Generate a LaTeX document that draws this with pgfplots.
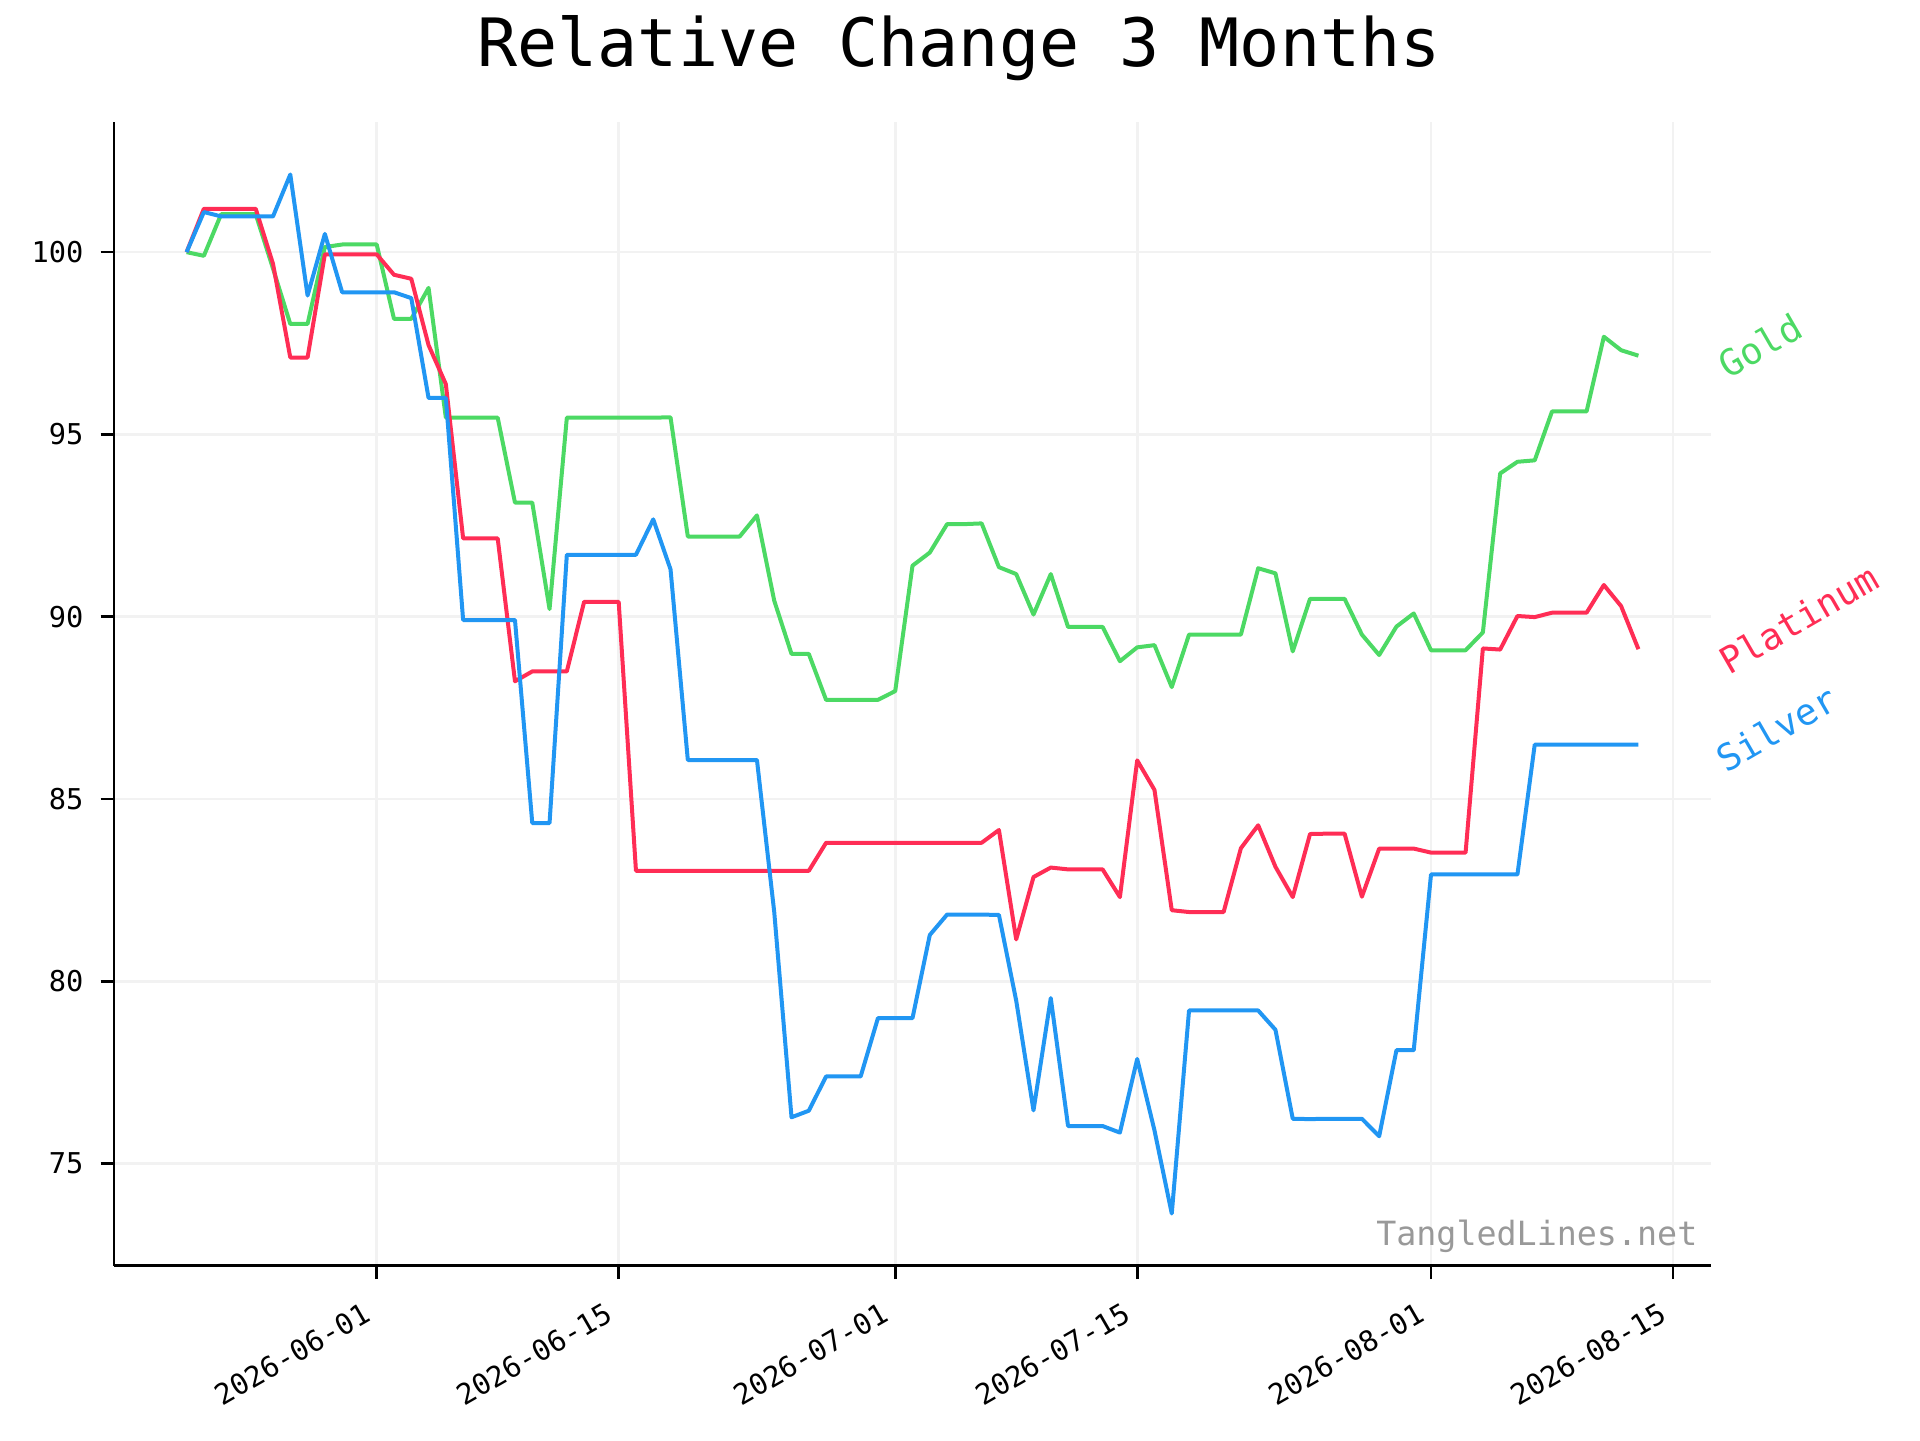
\documentclass[border=0pt]{standalone}
\usepackage{fontspec}
\setmainfont{DejaVu Sans Mono}
\usepackage{pgfplots}
\pgfplotsset{compat=1.18}
\usepackage{pgfplotstable}

\definecolor{cgold}{HTML}{4CD964}
\definecolor{cplat}{HTML}{FF2D55}
\definecolor{csilv}{HTML}{2196F3}
\definecolor{cgrid}{RGB}{242,242,242}
\definecolor{cwm}{RGB}{153,153,153}

% day 0 = 2026-05-21
\pgfplotstableread{
d gold plat silv
0 100.00 100.00 100.00
1 99.90 101.19 101.10
2 101.04 101.19 100.98
3 101.04 101.19 100.98
4 101.04 101.19 100.98
5 99.55 99.68 100.98
6 98.03 97.11 102.13
7 98.03 97.11 98.81
8 100.14 99.94 100.50
9 100.21 99.94 98.90
10 100.21 99.94 98.90
11 100.21 99.94 98.90
12 98.17 99.38 98.90
13 98.17 99.27 98.74
14 99.02 97.45 96.00
15 95.46 96.38 96.00
16 95.46 92.15 89.91
17 95.46 92.15 89.91
18 95.46 92.15 89.91
19 93.13 88.23 89.91
20 93.13 88.50 84.34
21 90.21 88.50 84.34
22 95.46 88.50 91.70
23 95.46 90.41 91.70
24 95.46 90.41 91.70
25 95.46 90.41 91.70
26 95.46 83.03 91.70
27 95.46 83.03 92.67
28 95.47 83.03 91.30
29 92.20 83.03 86.07
30 92.20 83.03 86.07
31 92.20 83.03 86.07
32 92.20 83.03 86.07
33 92.78 83.03 86.07
34 90.44 83.03 81.90
35 88.98 83.03 76.27
36 88.98 83.03 76.45
37 87.72 83.80 77.39
38 87.72 83.80 77.39
39 87.72 83.80 77.39
40 87.72 83.80 78.99
41 87.96 83.80 78.99
42 91.40 83.80 78.99
43 91.76 83.80 81.27
44 92.54 83.80 81.83
45 92.54 83.80 81.83
46 92.56 83.80 81.83
47 91.36 84.15 81.82
48 91.17 81.15 79.47
49 90.06 82.86 76.46
50 91.17 83.12 79.54
51 89.72 83.07 76.03
52 89.72 83.07 76.03
53 89.72 83.07 76.03
54 88.78 82.31 75.85
55 89.16 86.06 77.87
56 89.22 85.25 75.91
57 88.07 81.95 73.63
58 89.51 81.90 79.20
59 89.51 81.90 79.20
60 89.51 81.90 79.20
61 89.51 83.65 79.20
62 91.33 84.28 79.20
63 91.19 83.14 78.67
64 89.05 82.31 76.23
65 90.49 84.04 76.22
66 90.49 84.05 76.23
67 90.49 84.05 76.23
68 89.51 82.32 76.23
69 88.95 83.64 75.75
70 89.73 83.64 78.11
71 90.09 83.64 78.11
72 89.08 83.53 82.93
73 89.08 83.53 82.93
74 89.08 83.53 82.93
75 89.57 89.13 82.93
76 93.93 89.10 82.93
77 94.25 90.02 82.93
78 94.29 89.99 86.49
79 95.63 90.11 86.49
80 95.63 90.11 86.49
81 95.63 90.11 86.49
82 97.68 90.87 86.49
83 97.31 90.29 86.49
84 97.16 89.11 86.49
}\datatable

\begin{document}
\begin{tikzpicture}
\path[use as bounding box] (0pt,0pt) rectangle (576pt,432pt);
\begin{axis}[
  at={(34.2pt,52.3pt)}, anchor=south west,
  scale only axis, width=479.1pt, height=343.1pt,
  xmin=-4.2, xmax=88.2, ymin=72.2, ymax=103.57,
  axis lines=left,
  axis line style={-, black, line width=0.8pt},
  tick align=outside,
  major tick length=4pt,
  tick style={black, line width=0.8pt},
  xtick={11,25,41,55,72,86},
  xticklabels={2026-06-01,2026-06-15,2026-07-01,2026-07-15,2026-08-01,2026-08-15},
  ytick={75,80,85,90,95,100},
  /pgf/number format/assume math mode=true,
  xticklabel style={xshift=-4.5pt, rotate=30, anchor=north east, inner sep=0pt, font=\fontsize{8.6}{10}\selectfont},
  yticklabel style={anchor=east, inner sep=0pt, font=\fontsize{8.6}{10}\selectfont},
  xticklabel shift=6.5pt,
  yticklabel shift=5pt,
  grid=major,
  major grid style={cgrid, line width=0.8pt},
  every axis plot/.append style={line width=1.2pt, line join=round},
]
\addplot[cgold] table[x=d, y=gold] {\datatable};
\addplot[cplat] table[x=d, y=plat] {\datatable};
\addplot[csilv] table[x=d, y=silv] {\datatable};
\end{axis}
\node[anchor=base, font=\fontsize{20}{24}\selectfont, inner sep=0pt] at (287.7pt,411.9pt) {Relative Change 3 Months};
\node[anchor=base east, font=\fontsize{10}{12}\selectfont, text=cwm, inner sep=0pt] at (509.4pt,58.3pt) {TangledLines.net};
\node[rotate=30, anchor=center, font=\fontsize{11}{13}\selectfont, text=cgold, inner sep=0pt] at (528pt,328.3pt) {Gold};
\node[rotate=30, anchor=center, font=\fontsize{11}{13}\selectfont, text=cplat, inner sep=0pt] at (539.6pt,246.3pt) {Platinum};
\node[rotate=30, anchor=center, font=\fontsize{11}{13}\selectfont, text=csilv, inner sep=0pt] at (533pt,213.5pt) {Silver};
\end{tikzpicture}
\end{document}
